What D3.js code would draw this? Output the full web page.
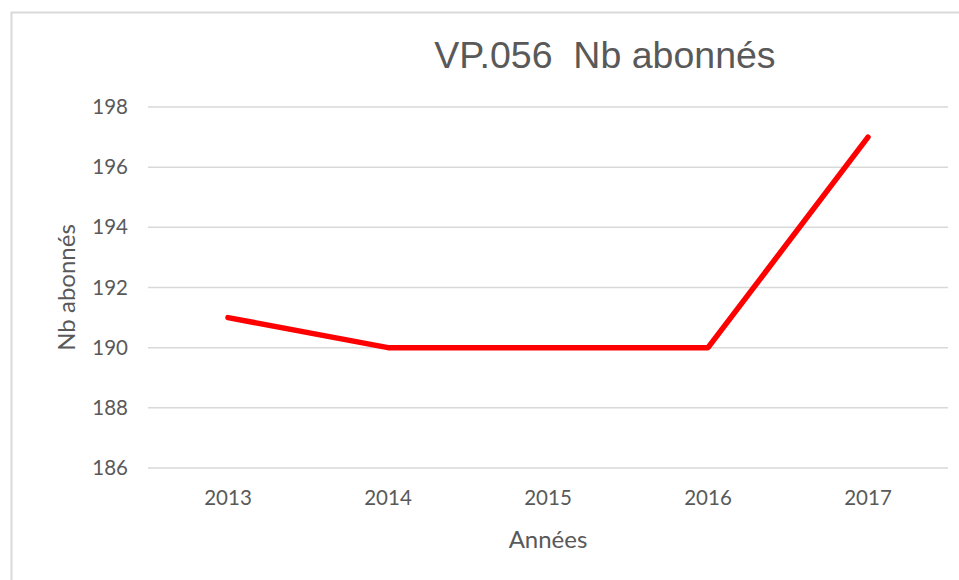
<!DOCTYPE html>
<html>
<head>
<meta charset="utf-8">
<script src="https://cdnjs.cloudflare.com/ajax/libs/d3/7.8.5/d3.min.js"></script>
<style>
  body { margin: 0; background: #fff; }
  svg text { fill: #595959; }
</style>
</head>
<body>
<div id="chart"></div>
<script>
var years = ["2013", "2014", "2015", "2016", "2017"];
var abonnes = [191, 190, 190, 190, 197];
var yTicks = [186, 188, 190, 192, 194, 196, 198];

var W = 959, H = 580;
var margin = {top: 107, right: 11, bottom: 112, left: 148},
    width = W - margin.left - margin.right,
    height = H - margin.top - margin.bottom;

var svg = d3.select("#chart").append("svg")
    .attr("width", W)
    .attr("height", H);

// frame around the chart area
svg.append("rect")
    .attr("x", 11.5).attr("y", 12.5)
    .attr("width", 980).attr("height", 600)
    .attr("fill", "none")
    .attr("stroke", "#d9d9d9")
    .attr("stroke-width", 2);

var g = svg.append("g")
    .attr("transform", "translate(" + margin.left + "," + margin.top + ")");

var x = d3.scaleBand()
    .domain(years)
    .range([0, width]);

var y = d3.scaleLinear()
    .domain([186, 198])
    .range([height, 0]);

// gridlines
g.append("g")
    .selectAll("line")
    .data(yTicks)
    .enter().append("line")
    .attr("x1", 0).attr("x2", width)
    .attr("y1", function(d) { return y(d); })
    .attr("y2", function(d) { return y(d); })
    .attr("stroke", "#d9d9d9")
    .attr("stroke-width", 1.5);

var yAxis = d3.axisLeft(y).tickValues(yTicks).tickSize(0).tickPadding(20);
var gy = g.append("g").call(yAxis);
gy.select(".domain").remove();
gy.selectAll("text")
    .style("font-family", "Lato, sans-serif")
    .style("font-size", "20.5px")
    .style("fill", "#595959");

var xAxis = d3.axisBottom(x).tickSize(0).tickPadding(22);
var gx = g.append("g")
    .attr("transform", "translate(0," + height + ")")
    .call(xAxis);
gx.select(".domain").remove();
gx.selectAll("text")
    .style("font-family", "Lato, sans-serif")
    .style("font-size", "20.5px")
    .style("fill", "#595959");

var line = d3.line()
    .x(function(d, i) { return x(years[i]) + x.bandwidth() / 2; })
    .y(function(d) { return y(d); });

g.append("path")
    .datum(abonnes)
    .attr("fill", "none")
    .attr("stroke", "#ff0000")
    .attr("stroke-width", 5.5)
    .attr("stroke-linejoin", "round")
    .attr("stroke-linecap", "round")
    .attr("d", line);

// title
svg.append("text")
    .attr("x", 605).attr("y", 68)
    .attr("text-anchor", "middle")
    .style("font-family", "'Liberation Sans', Arial, sans-serif")
    .style("font-size", "37.5px")
    .text("VP.056\u00a0\u00a0Nb abonnés");

// axis titles
svg.append("text")
    .attr("x", margin.left + width / 2).attr("y", 548)
    .attr("text-anchor", "middle")
    .style("font-family", "Lato, sans-serif")
    .style("font-size", "24px")
    .text("Années");

svg.append("text")
    .attr("transform", "translate(75," + (margin.top + height / 2) + ") rotate(-90)")
    .attr("text-anchor", "middle")
    .style("font-family", "Lato, sans-serif")
    .style("font-size", "24px")
    .text("Nb abonnés");
</script>
</body>
</html>
